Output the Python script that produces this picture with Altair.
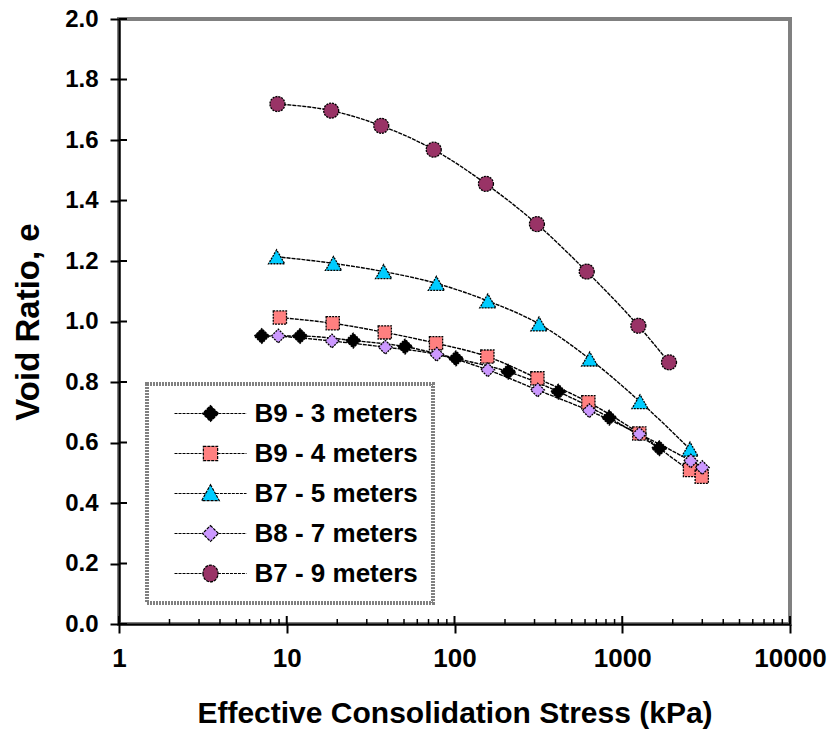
import altair as alt
import pandas as pd

series_names = ["B9 - 3 meters", "B9 - 4 meters", "B7 - 5 meters", "B8 - 7 meters", "B7 - 9 meters"]

b9_3_stress = [7.1, 12, 24.9, 50.7, 102, 209, 416, 837, 1663]
b9_3_e = [0.952, 0.952, 0.937, 0.917, 0.878, 0.834, 0.768, 0.682, 0.581]

b9_4_stress = [9.1, 18.8, 38.4, 77.6, 157, 312, 628, 1264, 2535, 2978]
b9_4_e = [1.013, 0.994, 0.964, 0.928, 0.884, 0.812, 0.733, 0.630, 0.509, 0.487]

b7_5_stress = [8.7, 19, 37.8, 78, 158, 319, 640, 1276, 2535]
b7_5_e = [1.214, 1.192, 1.165, 1.126, 1.068, 0.992, 0.876, 0.735, 0.578]

b8_7_stress = [8.9, 18.6, 38.7, 78.3, 158, 313, 636, 1264, 2560, 3000]
b8_7_e = [0.952, 0.9355, 0.915, 0.8915, 0.840, 0.7735, 0.705, 0.628, 0.539, 0.517]

b7_9_stress = [8.8, 18.4, 36.6, 75.2, 154, 310, 614, 1247, 1900]
b7_9_e = [1.719, 1.697, 1.647, 1.568, 1.455, 1.322, 1.165, 0.986, 0.865]

fill_colors = ["#000000", "#FF8080", "#00CCFF", "#CC99FF", "#993366"]
point_shapes = ["diamond", "square", "triangle-up", "diamond", "circle"]
point_sizes = [220, 175, 260, 190, 225]

# legend symbols: a line segment with the marker drawn on it (unit box -1..1)
legend_shapes = [
    "M-0.714,0L-0.04,0M0.33,0L1,0M0.143,-0.19L0.333,0L0.143,0.19L-0.047,0Z",
    "M-0.714,0L-0.03,0M0.31,0L1,0M-0.027,-0.17H0.313V0.17H-0.027Z",
    "M-0.714,0L0.02,0M0.27,0L1,0M0.143,-0.21L0.353,0.17L-0.067,0.17Z",
    "M-0.714,0L-0.04,0M0.33,0L1,0M0.143,-0.19L0.333,0L0.143,0.19L-0.047,0Z",
    "M-0.714,0L-0.04,0M0.32,0L1,0M-0.037,0A0.18,0.2 0 1,0 0.323,0A0.18,0.2 0 1,0 -0.037,0Z",
]
legend_strokes = ["black", "black", "black", "black", "black"]

x_major = [1, 10, 100, 1000, 10000]
x_minor = [2, 3, 4, 5, 6, 7, 8, 9, 20, 30, 40, 50, 60, 70, 80, 90,
           200, 300, 400, 500, 600, 700, 800, 900, 2000, 3000, 4000, 5000, 6000, 7000, 8000, 9000]
y_ticks = [0.0, 0.2, 0.4, 0.6, 0.8, 1.0, 1.2, 1.4, 1.6, 1.8, 2.0]

all_stress = [b9_3_stress, b9_4_stress, b7_5_stress, b8_7_stress, b7_9_stress]
all_e = [b9_3_e, b9_4_e, b7_5_e, b8_7_e, b7_9_e]
rows = []
for name, xs, ys in zip(series_names, all_stress, all_e):
    for xv, yv in zip(xs, ys):
        rows.append({"series": name, "stress": xv, "e": yv})
df = pd.DataFrame(rows)

W, H = 671, 605
FONT = "Liberation Sans"

x_scale = alt.Scale(type="log", domain=[1, 10000])
y_scale = alt.Scale(domain=[0, 2])

x_enc = alt.X("stress:Q", scale=x_scale,
              axis=alt.Axis(values=x_major, format="d", title="Effective Consolidation Stress (kPa)",
                            labelFlush=False, labelOverlap=False, grid=False,
                            tickSize=9, tickWidth=2, tickColor="black",
                            domainColor="black", domainWidth=2,
                            labelFont=FONT, labelFontSize=26, labelFontWeight="bold", labelColor="black",
                            labelPadding=12,
                            titleFont=FONT, titleFontSize=30, titleFontWeight="bold", titleColor="black",
                            titlePadding=27))
y_enc = alt.Y("e:Q", scale=y_scale,
              axis=alt.Axis(values=y_ticks, format=".1f", title="Void Ratio, e", grid=False,
                            tickSize=9, tickWidth=2, tickColor="black",
                            domainColor="black", domainWidth=2,
                            labelFont=FONT, labelFontSize=24, labelFontWeight="bold", labelColor="black",
                            labelPadding=12,
                            titleFont=FONT, titleFontSize=33, titleFontWeight="bold", titleColor="black",
                            titlePadding=19))

lines = alt.Chart(df).mark_line(color="black", strokeWidth=1.4, strokeDash=[4, 1],
                                interpolate="monotone").encode(
    x=x_enc, y=y_enc, detail="series:N")

point_layers = []
for name, shp, col, sz in zip(series_names, point_shapes, fill_colors, point_sizes):
    point_layers.append(
        alt.Chart(df).transform_filter(alt.datum.series == name).mark_point(
            filled=True, shape=shp, fill=col, size=sz, stroke="black", strokeWidth=1.3,
            strokeDash=[2, 1], opacity=1).encode(x="stress:Q", y="e:Q")
    )

leg = alt.Legend(orient="none", legendX=28, legendY=365, title=None, clipHeight=30,
                 rowPadding=10, symbolSize=7056, symbolStrokeColor="black", symbolStrokeWidth=1.2,
                 symbolDash=[3, 1], symbolOpacity=1, labelFont=FONT, labelFontSize=26,
                 labelFontWeight="bold", labelColor="black", labelOffset=7, padding=14.5,
                 strokeColor="#808080", fillColor="white", symbolLimit=0, labelLimit=500,
                 labelExpr="datum.label + '\u2002'")

legend_layer = alt.Chart(df).transform_filter("datum.stress < 0").mark_point(
    filled=True, size=7056, opacity=1, strokeWidth=1.2).encode(
    x="stress:Q", y="e:Q",
    shape=alt.Shape("series:N", scale=alt.Scale(domain=series_names, range=legend_shapes), legend=leg),
    fill=alt.Fill("series:N", scale=alt.Scale(domain=series_names, range=fill_colors), legend=leg),
    stroke=alt.Stroke("series:N", scale=alt.Scale(domain=series_names, range=legend_strokes), legend=leg),
)

ytick_in = alt.Chart(pd.DataFrame({"v": y_ticks})).mark_rule(color="black", strokeWidth=2).encode(
    y="v:Q", x=alt.value(0), x2=alt.value(8))
xmajor_in = alt.Chart(pd.DataFrame({"v": x_major})).mark_rule(color="black", strokeWidth=2).encode(
    x="v:Q", y=alt.value(H), y2=alt.value(H - 8))
xminor_in = alt.Chart(pd.DataFrame({"v": x_minor})).mark_rule(color="black", strokeWidth=1.5).encode(
    x="v:Q", y=alt.value(H), y2=alt.value(H - 5))

chart = alt.layer(lines, ytick_in, xmajor_in, xminor_in, *point_layers, legend_layer).properties(
    width=W, height=H,
    autosize=alt.AutoSizeParams(type="none"),
    padding={"left": 119, "top": 19, "right": 38, "bottom": 109},
    background="white",
).configure_view(
    stroke="#808080", strokeWidth=4
).configure_legend(
    strokeDash=[2, 1], strokeWidth=4
)

chart.save("out.html", embed_options={"renderer": "svg", "actions": False})
